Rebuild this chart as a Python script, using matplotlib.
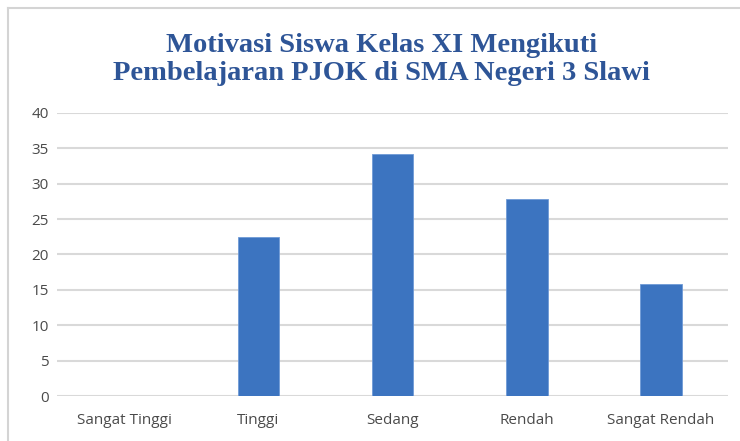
import matplotlib
matplotlib.use('Agg')
import matplotlib.pyplot as plt
from matplotlib.lines import Line2D

categories = ['Sangat Tinggi', 'Tinggi', 'Sedang', 'Rendah', 'Sangat Rendah']
values = [0, 22.4, 34.2, 27.8, 15.8]
yticks = [0, 5, 10, 15, 20, 25, 30, 35, 40]

fig = plt.figure(figsize=(7.4, 4.41), dpi=100)
ax = fig.add_axes([0.077, 0.102, 0.907, 0.642])

x = range(len(categories))
ax.bar(x, values, width=0.31, color='#3c74c0', edgecolor='#6f9ad6', linewidth=0.6, zorder=3)

ax.set_xlim(-0.5, len(categories) - 0.5)
ax.set_ylim(0, 40)
ax.set_yticks(yticks)
ax.set_xticks(list(x))
ax.set_xticklabels(categories)
ax.grid(axis='y', color='#d9d9d9', linewidth=1.5, zorder=0)
ax.set_axisbelow(True)
for s in ax.spines.values():
    s.set_visible(False)
ax.tick_params(length=0, labelsize=11, labelcolor='#4a4a4a', pad=6)
ax.tick_params(axis='x', pad=12)
for lab in ax.get_xticklabels() + ax.get_yticklabels():
    lab.set_family('Open Sans')

fig.text(0.515, 0.865, 'Motivasi Siswa Kelas XI Mengikuti\nPembelajaran PJOK di SMA Negeri 3 Slawi',
         ha='center', va='center', family='Liberation Serif', fontweight='bold',
         fontsize=20.5, color='#2e5597', linespacing=1.2)

# screenshot frame on left and top
fig.add_artist(Line2D([8/740, 8/740], [0, 1 - 8/441], transform=fig.transFigure, color='#d4d4d4', lw=1.5))
fig.add_artist(Line2D([8/740, 1], [1 - 8/441, 1 - 8/441], transform=fig.transFigure, color='#d4d4d4', lw=1.5))

fig.savefig('out.png', dpi=100)
